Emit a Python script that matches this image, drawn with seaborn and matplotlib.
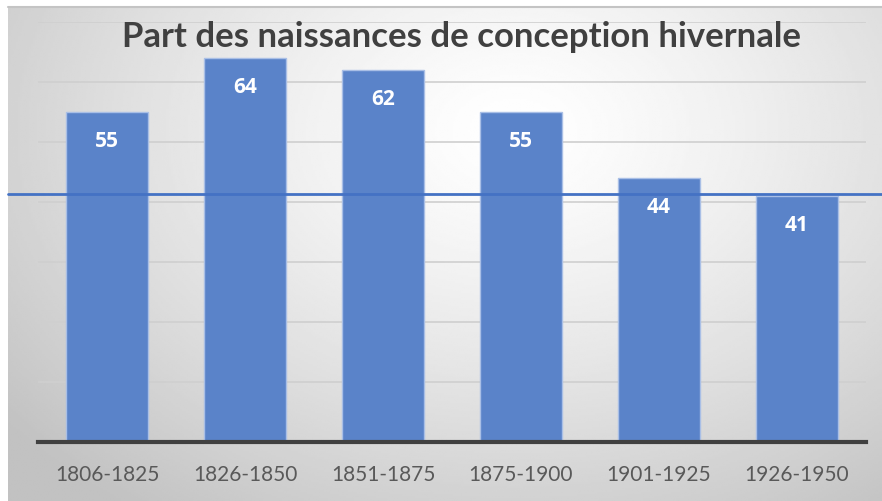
import numpy as np
import pandas as pd
import matplotlib
matplotlib.use('Agg')
import matplotlib.pyplot as plt
import seaborn as sns

# data
periodes = ['1806-1825', '1826-1850', '1851-1875', '1875-1900', '1901-1925', '1926-1950']
part = [55, 64, 62, 55, 44, 41]
niveau_ref = 41.3   # horizontal blue line
titre = 'Part des naissances de conception hivernale'

df = pd.DataFrame({'periode': periodes, 'part': part})

sns.set_style('white')
plt.rcParams['font.family'] = ['Lato', 'DejaVu Sans']

W, H = 882, 501
fig = plt.figure(figsize=(W / 100, H / 100), dpi=100)
fig.patch.set_facecolor('white')

# radial grey gradient behind the chart
bg = fig.add_axes([8 / W, 0, (W - 8) / W, (H - 7) / H], zorder=-10)
gx, gy = np.meshgrid(np.linspace(0, 1, 400), np.linspace(0, 1, 250))
d = np.sqrt(((gx - 0.58) / 0.75) ** 2 + ((gy - 0.25) / 0.95) ** 2)
shade = 1 - 0.24 * np.clip(d, 0, 1) ** 1.3
bg.imshow(shade, cmap='gray', vmin=0, vmax=1, aspect='auto',
          extent=[0, 1, 1, 0], interpolation='bilinear')
bg.axis('off')
bg.plot([0, 1], [1, 1], color='#c4c4c4', lw=1.5, transform=bg.transAxes, clip_on=False)

ax = fig.add_axes([38 / W, (H - 442) / H, 828 / W, 420 / H])
ax.set_facecolor('none')

sns.barplot(data=df, x='periode', y='part', color='#5a83c9', width=0.6,
            edgecolor='#a9bfe6', linewidth=1, saturation=1, ax=ax, zorder=3)

ax.set_ylim(0, 70)
ax.set_xlim(-0.5, len(periodes) - 0.5)
ax.set_yticks(np.arange(0, 71, 10))
ax.yaxis.grid(True, color='#cfcfcf', lw=1.2)
ax.set_axisbelow(True)
ax.tick_params(axis='y', left=False, labelleft=False)
ax.tick_params(axis='x', bottom=False, labelsize=15, colors='#595959', pad=13)
ax.set_xlabel('')
ax.set_ylabel('')
for s in ['top', 'right', 'left']:
    ax.spines[s].set_visible(False)
ax.spines['bottom'].set_color('#404040')
ax.spines['bottom'].set_linewidth(3)
ax.spines['bottom'].set_zorder(5)

for i, v in enumerate(part):
    ax.annotate(str(v), (i, v), xytext=(0, -21), textcoords='offset points',
                ha='center', va='center', color='white', fontsize=15,
                fontweight='bold', family=['Open Sans', 'DejaVu Sans'], zorder=6)

ax.axhline(niveau_ref, xmin=-30 / 828, xmax=(W - 38) / 828, color='#4472c4',
           lw=2, clip_on=False, zorder=7)

fig.text(462 / W, 1 - 37 / H, titre, ha='center', va='center', fontsize=25,
         fontweight='bold', color='#404040')

fig.savefig('out.png', dpi=100)
